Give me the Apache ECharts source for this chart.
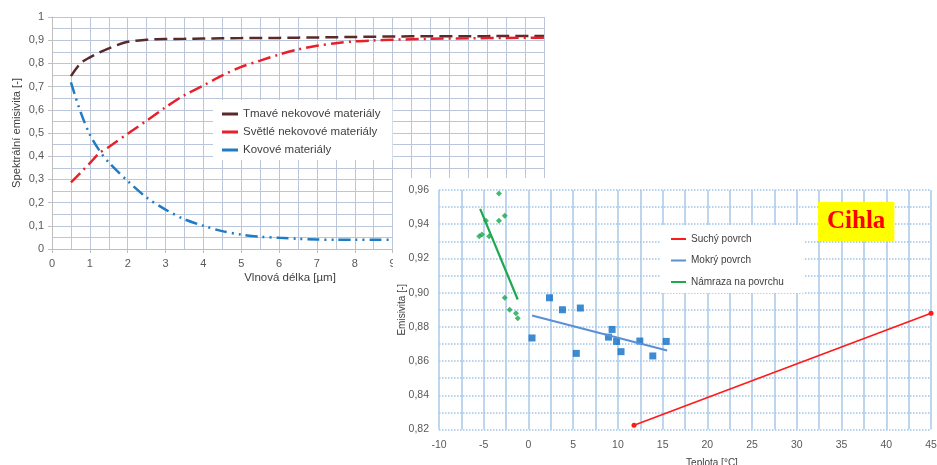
<!DOCTYPE html>
<html>
<head>
<meta charset="utf-8">
<script src="https://cdn.jsdelivr.net/npm/echarts@6/dist/echarts.min.js"></script>
<style>
  html, body { margin: 0; padding: 0; background: #fff; }
  #spektrEchart { position: absolute; left: 0; top: 0; width: 937px; height: 465px; }
  #cihlaEchart { position: absolute; left: 393px; top: 178px; width: 544px; height: 287px; background: #fff; }
</style>
</head>
<body>
<div id="spektrEchart"></div>
<div id="cihlaEchart"></div>
<script>
// spektralni emisivita
var vlnovaDelka = [0.5, 0.75, 1, 1.25, 1.5, 2, 2.5, 3, 3.5, 4, 4.5, 5, 5.5, 6, 6.5, 7, 7.5, 8, 8.5, 9, 10, 11, 12, 13];
var tmave = [0.745, 0.800, 0.826, 0.847, 0.865, 0.893, 0.902, 0.905, 0.906, 0.907, 0.908, 0.909, 0.910, 0.910, 0.911, 0.912, 0.913, 0.914, 0.915, 0.916, 0.917, 0.917, 0.918, 0.918];
var svetle = [0.287, 0.328, 0.370, 0.413, 0.440, 0.497, 0.553, 0.611, 0.663, 0.705, 0.748, 0.785, 0.812, 0.838, 0.860, 0.876, 0.887, 0.895, 0.899, 0.902, 0.906, 0.908, 0.910, 0.911];
var kovove = [0.718, 0.593, 0.493, 0.425, 0.373, 0.293, 0.222, 0.170, 0.128, 0.100, 0.077, 0.062, 0.053, 0.048, 0.044, 0.041, 0.040, 0.040, 0.040, 0.040, 0.040, 0.040, 0.040, 0.040];

// cihla - emisivita podle teploty
var suchyX = [11.8, 45];
var suchyY = [0.8225, 0.888];
var mokryX = [0.4, 2.35, 3.8, 5.35, 5.8, 8.95, 9.35, 9.85, 10.35, 12.45, 13.9, 15.4];
var mokryY = [0.8735, 0.897, 0.890, 0.8645, 0.891, 0.874, 0.8785, 0.8715, 0.8655, 0.8717, 0.863, 0.8715];
var mokryTrendX = [0.4, 15.5];
var mokryTrendY = [0.8866, 0.8662];
var namrazaX = [-5.5, -5.2, -4.75, -4.4, -3.3, -3.3, -2.65, -2.65, -2.1, -1.4, -1.2];
var namrazaY = [0.933, 0.934, 0.942, 0.933, 0.958, 0.942, 0.945, 0.897, 0.890, 0.888, 0.885];
var namrazaTrendX = [-5.4, -1.2];
var namrazaTrendY = [0.949, 0.896];

var pismo = '"Liberation Sans", Arial, sans-serif';

function pary(xs, ys) {
  return xs.map(function (x, i) { return [x, ys[i]]; });
}

intSpektr();
intCihla();

function intSpektr() {
  var spektrEchart = echarts.init(document.getElementById('spektrEchart'));
  var gridColor = '#bcc6da';
  var option = {
    animation: false,
    grid: { left: 52, top: 17, right: 393, bottom: 216, outerBoundsMode: 'none' },
    legend: {
      orient: 'vertical',
      left: 213, top: 100,
      padding: [8, 12, 4, 9],
      backgroundColor: '#fff',
      icon: 'rect',
      itemWidth: 16, itemHeight: 3, itemGap: 6,
      textStyle: { fontFamily: pismo, fontSize: 11.5, color: '#404040' },
      data: ['Tmavé nekovové materiály', 'Světlé nekovové materiály', 'Kovové materiály']
    },
    xAxis: {
      type: 'value', min: 0, max: 13, interval: 1,
      name: 'Vlnová délka [µm]', nameLocation: 'middle', nameGap: 23, nameMoveOverlap: false,
      nameTextStyle: { fontFamily: pismo, fontSize: 11.5, color: '#404040', padding: [0, 16, 0, 0] },
      axisLine: { show: true, lineStyle: { color: '#bfbfbf' } },
      axisTick: { show: true, length: 4, lineStyle: { color: '#bfbfbf' } },
      axisLabel: { fontFamily: pismo, fontSize: 11, color: '#595959', margin: 9 },
      splitLine: { show: true, lineStyle: { color: gridColor, width: 1 } },
      minorTick: { show: false, splitNumber: 2 },
      minorSplitLine: { show: true, lineStyle: { color: gridColor, width: 1 } }
    },
    yAxis: {
      type: 'value', min: 0, max: 1, interval: 0.1,
      name: 'Spektrální emisivita [-]', nameLocation: 'middle', nameGap: 30, nameMoveOverlap: false,
      nameTextStyle: { fontFamily: pismo, fontSize: 11.2, color: '#404040' },
      axisLine: { show: true, lineStyle: { color: '#bfbfbf' } },
      axisTick: { show: true, length: 4, lineStyle: { color: '#bfbfbf' } },
      axisLabel: { fontFamily: pismo, fontSize: 11, color: '#595959', margin: 8,
        formatter: function (v) { return (+v.toFixed(2)).toString().replace('.', ','); } },
      splitLine: { show: true, lineStyle: { color: gridColor, width: 1 } },
      minorTick: { show: false, splitNumber: 2 },
      minorSplitLine: { show: true, lineStyle: { color: gridColor, width: 1 } }
    },
    series: [{
      name: 'Tmavé nekovové materiály', type: 'line', smooth: 0.3, showSymbol: false,
      color: '#5a2a2a',
      lineStyle: { color: '#5a2a2a', width: 2.5, type: [13, 6] },
      data: pary(vlnovaDelka, tmave)
    }, {
      name: 'Světlé nekovové materiály', type: 'line', smooth: 0.3, showSymbol: false,
      color: '#e8202a',
      lineStyle: { color: '#e8202a', width: 2.5, type: [13, 5, 2, 5] },
      data: pary(vlnovaDelka, svetle)
    }, {
      name: 'Kovové materiály', type: 'line', smooth: 0.3, showSymbol: false,
      color: '#1f7bc3',
      lineStyle: { color: '#1f7bc3', width: 2.5, type: [12, 5, 2, 5, 2, 5] },
      data: pary(vlnovaDelka, kovove)
    }]
  };
  spektrEchart.setOption(option);
}

function intCihla() {
  var cihlaEchart = echarts.init(document.getElementById('cihlaEchart'));
  var option = {
    animation: false,
    title: {
      text: 'Cihla', left: 425, top: 24,
      backgroundColor: '#ffff00',
      padding: [7, 9, 7, 9],
      textStyle: { fontFamily: '"Liberation Serif", serif', fontWeight: 'bold', fontSize: 25, color: '#ff0000' }
    },
    grid: { left: 46, top: 12, right: 6, bottom: 35.5, outerBoundsMode: 'none' },
    legend: {
      orient: 'vertical',
      left: 267, top: 47,
      padding: [9, 20, 6, 11],
      backgroundColor: '#fff',
      icon: 'rect',
      itemWidth: 15, itemHeight: 2, itemGap: 11.5,
      textStyle: { fontFamily: pismo, fontSize: 10, color: '#404040' },
      data: ['Suchý povrch', 'Mokrý povrch', 'Námraza na povrchu']
    },
    xAxis: {
      type: 'value', min: -10, max: 45, interval: 5,
      name: 'Teplota [°C]', nameLocation: 'middle', nameGap: 29, nameMoveOverlap: false,
      nameTextStyle: { fontFamily: pismo, fontSize: 10, color: '#404040', padding: [0, 0, 0, 54] },
      axisLine: { show: false }, axisTick: { show: false },
      axisLabel: { fontFamily: pismo, fontSize: 10.5, color: '#595959', margin: 10 },
      splitLine: { show: true, lineStyle: { color: '#a9c9e8', width: 1.5 } },
      minorTick: { show: false, splitNumber: 2 },
      minorSplitLine: { show: true, lineStyle: { color: '#a9c9e8', width: 1.5 } }
    },
    yAxis: {
      type: 'value', min: 0.82, max: 0.96, interval: 0.02,
      name: 'Emisivita [-]', nameLocation: 'middle', nameGap: 32, nameMoveOverlap: false,
      nameTextStyle: { fontFamily: pismo, fontSize: 10, color: '#404040' },
      axisLine: { show: false }, axisTick: { show: false },
      axisLabel: { fontFamily: pismo, fontSize: 10.5, color: '#595959', margin: 10,
        formatter: function (v) { return v.toFixed(2).replace('.', ','); } },
      splitLine: { show: true, lineStyle: { color: '#9fc3e6', width: 1.5, type: 'dotted' } },
      minorTick: { show: false, splitNumber: 2 },
      minorSplitLine: { show: true, lineStyle: { color: '#9fc3e6', width: 1.5, type: 'dotted' } }
    },
    series: [{
      name: 'Suchý povrch', type: 'line', color: '#ff1a1a',
      symbol: 'circle', symbolSize: 5,
      itemStyle: { color: '#ff1a1a' },
      lineStyle: { color: '#ff1a1a', width: 1.6 },
      data: pary(suchyX, suchyY), z: 3
    }, {
      name: 'Mokrý povrch body', type: 'scatter', symbol: 'rect', symbolSize: 7,
      itemStyle: { color: '#0d6fc7' },
      data: pary(mokryX, mokryY)
    }, {
      name: 'Mokrý povrch', type: 'line', color: '#5b8fd6', showSymbol: false,
      lineStyle: { color: '#5b8fd6', width: 2 },
      data: pary(mokryTrendX, mokryTrendY)
    }, {
      name: 'Námraza body', type: 'scatter', symbol: 'diamond', symbolSize: 6,
      itemStyle: { color: '#17a84c' },
      data: pary(namrazaX, namrazaY)
    }, {
      name: 'Námraza na povrchu', type: 'line', color: '#1fa84d', showSymbol: false,
      lineStyle: { color: '#1fa84d', width: 2.2 },
      data: pary(namrazaTrendX, namrazaTrendY)
    }]
  };
  cihlaEchart.setOption(option);
}
</script>
</body>
</html>
